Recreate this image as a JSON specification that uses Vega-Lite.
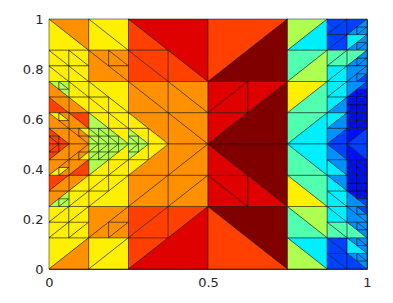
{"$schema":"https://vega.github.io/schema/vega-lite/v6.json","width":318,"height":250,"autosize":{"type":"none"},"padding":{"left":49,"top":19,"right":26,"bottom":34},"background":"white","config":{"view":{"stroke":"#404040","strokeWidth":1}},
"data":{"values":[
{"x":[0,0.125],"y":[0.875,0.875],"z":[1,0.875],"k":"y"},{"x":[0,0.125],"y":[1,0.875],"z":[1,1],"k":"o"},
{"x":[0.125,0.25],"y":[0.875,0.875],"z":[1,0.875],"k":"y"},{"x":[0.125,0.25],"y":[1,0.875],"z":[1,1],"k":"y"},
{"x":[0,0.0625],"y":[0.8125,0.8125],"z":[0.875,0.8125],"k":"y"},{"x":[0,0.0625],"y":[0.875,0.8125],"z":[0.875,0.875],"k":"y"},
{"x":[0.0625,0.125],"y":[0.8125,0.8125],"z":[0.875,0.8125],"k":"y"},{"x":[0.0625,0.125],"y":[0.875,0.8125],"z":[0.875,0.875],"k":"y"},
{"x":[0,0.0625],"y":[0.75,0.75],"z":[0.8125,0.75],"k":"y"},{"x":[0,0.0625],"y":[0.8125,0.75],"z":[0.8125,0.8125],"k":"y"},
{"x":[0.0625,0.125],"y":[0.75,0.75],"z":[0.8125,0.75],"k":"y"},{"x":[0.0625,0.125],"y":[0.8125,0.75],"z":[0.8125,0.8125],"k":"y"},
{"x":[0.125,0.25],"y":[0.75,0.75],"z":[0.875,0.75],"k":"o"},
{"x":[0.125,0.1875],"y":[0.875,0.8125],"z":[0.875,0.875],"k":"o"},{"x":[0.1875,0.25],"y":[0.8125,0.8125],"z":[0.875,0.8125],"k":"o"},{"x":[0.1875,0.25],"y":[0.875,0.8125],"z":[0.875,0.875],"k":"o"},{"x":[0.1875,0.25],"y":[0.8125,0.75],"z":[0.8125,0.8125],"k":"o"},
{"x":[0.125,0.25],"y":[0.75,0.625],"z":[0.75,0.75],"k":"y"},
{"x":[0.125,0.1875],"y":[0.6875,0.6875],"z":[0.75,0.6875],"k":"y"},{"x":[0.125,0.1875],"y":[0.625,0.625],"z":[0.6875,0.625],"k":"y"},{"x":[0.125,0.1875],"y":[0.6875,0.625],"z":[0.6875,0.6875],"k":"y"},{"x":[0.1875,0.25],"y":[0.625,0.625],"z":[0.6875,0.625],"k":"y"},
{"x":[0.0625,0.125],"y":[0.6875,0.6875],"z":[0.75,0.6875],"k":"y"},{"x":[0.0625,0.125],"y":[0.75,0.6875],"z":[0.75,0.75],"k":"y"},
{"x":[0.0625,0.125],"y":[0.625,0.625],"z":[0.6875,0.625],"k":"o"},{"x":[0.0625,0.125],"y":[0.6875,0.625],"z":[0.6875,0.6875],"k":"y"},
{"x":[0,0.0625],"y":[0.6875,0.6875],"z":[0.75,0.6875],"k":"o"},
{"x":[0,0.03125],"y":[0.75,0.71875],"z":[0.75,0.75],"k":"l"},{"x":[0.03125,0.0625],"y":[0.71875,0.71875],"z":[0.75,0.71875],"k":"l"},{"x":[0.03125,0.0625],"y":[0.75,0.71875],"z":[0.75,0.75],"k":"l"},{"x":[0.03125,0.0625],"y":[0.71875,0.6875],"z":[0.71875,0.71875],"k":"l"},
{"x":[0,0.0625],"y":[0.625,0.625],"z":[0.6875,0.625],"k":"R"},{"x":[0,0.0625],"y":[0.6875,0.625],"z":[0.6875,0.6875],"k":"o"},
{"x":[0.125,0.1875],"y":[0.625,0.5625],"z":[0.625,0.625],"k":"y"},{"x":[0.1875,0.25],"y":[0.5625,0.5625],"z":[0.625,0.5625],"k":"y"},{"x":[0.1875,0.25],"y":[0.625,0.5625],"z":[0.625,0.625],"k":"y"},{"x":[0.1875,0.25],"y":[0.5625,0.5],"z":[0.5625,0.5625],"k":"y"},
{"x":[0.125,0.1875],"y":[0.5625,0.5625],"z":[0.625,0.5625],"k":"l"},
{"x":[0.125,0.15625],"y":[0.53125,0.53125],"z":[0.5625,0.53125],"k":"l"},{"x":[0.125,0.15625],"y":[0.5,0.5],"z":[0.53125,0.5],"k":"l"},{"x":[0.125,0.15625],"y":[0.53125,0.5],"z":[0.53125,0.53125],"k":"l"},{"x":[0.15625,0.1875],"y":[0.5,0.5],"z":[0.53125,0.5],"k":"l"},
{"x":[0.125,0.15625],"y":[0.5625,0.53125],"z":[0.5625,0.5625],"k":"l"},{"x":[0.15625,0.1875],"y":[0.53125,0.53125],"z":[0.5625,0.53125],"k":"l"},{"x":[0.15625,0.1875],"y":[0.5625,0.53125],"z":[0.5625,0.5625],"k":"l"},{"x":[0.15625,0.1875],"y":[0.53125,0.5],"z":[0.53125,0.53125],"k":"l"},
{"x":[0.1875,0.21875],"y":[0.53125,0.53125],"z":[0.5625,0.53125],"k":"l"},{"x":[0.1875,0.21875],"y":[0.5,0.5],"z":[0.53125,0.5],"k":"l"},{"x":[0.1875,0.21875],"y":[0.53125,0.5],"z":[0.53125,0.53125],"k":"l"},{"x":[0.21875,0.25],"y":[0.5,0.5],"z":[0.53125,0.5],"k":"l"},
{"x":[0.0625,0.125],"y":[0.5625,0.5625],"z":[0.625,0.5625],"k":"o"},{"x":[0.0625,0.125],"y":[0.625,0.5625],"z":[0.625,0.625],"k":"R"},
{"x":[0,0.0625],"y":[0.5625,0.5625],"z":[0.625,0.5625],"k":"o"},
{"x":[0,0.03125],"y":[0.625,0.59375],"z":[0.625,0.625],"k":"y"},{"x":[0.03125,0.0625],"y":[0.59375,0.59375],"z":[0.625,0.59375],"k":"y"},{"x":[0.03125,0.0625],"y":[0.625,0.59375],"z":[0.625,0.625],"k":"o"},{"x":[0.03125,0.0625],"y":[0.59375,0.5625],"z":[0.59375,0.59375],"k":"o"},
{"x":[0.0625,0.125],"y":[0.5,0.5],"z":[0.5625,0.5],"k":"o"},
{"x":[0.0625,0.09375],"y":[0.5625,0.53125],"z":[0.5625,0.5625],"k":"o"},{"x":[0.09375,0.125],"y":[0.53125,0.53125],"z":[0.5625,0.53125],"k":"o"},{"x":[0.09375,0.125],"y":[0.5625,0.53125],"z":[0.5625,0.5625],"k":"y"},{"x":[0.09375,0.125],"y":[0.53125,0.5],"z":[0.53125,0.53125],"k":"o"},
{"x":[0,0.0625],"y":[0.5625,0.5],"z":[0.5625,0.5625],"k":"o"},
{"x":[0,0.03125],"y":[0.53125,0.53125],"z":[0.5625,0.53125],"k":"R"},{"x":[0,0.03125],"y":[0.5,0.5],"z":[0.53125,0.5],"k":"R"},{"x":[0,0.03125],"y":[0.53125,0.5],"z":[0.53125,0.53125],"k":"R"},{"x":[0.03125,0.0625],"y":[0.5,0.5],"z":[0.53125,0.5],"k":"R"},
{"x":[0.25,0.375],"y":[0.875,0.875],"z":[1,0.875],"k":"R"},{"x":[0.25,0.375],"y":[0.75,0.75],"z":[0.875,0.75],"k":"R"},{"x":[0.25,0.375],"y":[0.875,0.75],"z":[0.875,0.875],"k":"R"},{"x":[0.375,0.5],"y":[0.75,0.75],"z":[0.875,0.75],"k":"R"},
{"x":[0.25,0.5],"y":[1,0.75],"z":[1,1],"k":"r"},
{"x":[0.5,0.75],"y":[0.75,1],"z":[1,1],"k":"R"},{"x":[0.5,0.75],"y":[0.75,0.75],"z":[0.75,1],"k":"d"},
{"x":[0.25,0.375],"y":[0.625,0.625],"z":[0.75,0.625],"k":"o"},{"x":[0.25,0.375],"y":[0.75,0.625],"z":[0.75,0.75],"k":"o"},
{"x":[0.375,0.5],"y":[0.625,0.625],"z":[0.75,0.625],"k":"o"},{"x":[0.375,0.5],"y":[0.75,0.625],"z":[0.75,0.75],"k":"o"},
{"x":[0.375,0.5],"y":[0.5,0.5],"z":[0.625,0.5],"k":"o"},{"x":[0.375,0.5],"y":[0.625,0.5],"z":[0.625,0.625],"k":"o"},
{"x":[0.25,0.375],"y":[0.625,0.5],"z":[0.625,0.625],"k":"o"},
{"x":[0.25,0.3125],"y":[0.5625,0.5625],"z":[0.625,0.5625],"k":"y"},{"x":[0.25,0.3125],"y":[0.5625,0.5],"z":[0.5625,0.5625],"k":"y"},{"x":[0.3125,0.375],"y":[0.5,0.5],"z":[0.5625,0.5],"k":"y"},
{"x":[0.25,0.28125],"y":[0.53125,0.53125],"z":[0.5625,0.53125],"k":"l"},{"x":[0.25,0.28125],"y":[0.5,0.5],"z":[0.53125,0.5],"k":"l"},{"x":[0.25,0.28125],"y":[0.53125,0.5],"z":[0.53125,0.53125],"k":"l"},{"x":[0.28125,0.3125],"y":[0.5,0.5],"z":[0.53125,0.5],"k":"l"},
{"x":[0.5,0.625],"y":[0.625,0.75],"z":[0.75,0.75],"k":"r"},{"x":[0.5,0.625],"y":[0.625,0.625],"z":[0.625,0.75],"k":"r"},
{"x":[0.5,0.625],"y":[0.5,0.625],"z":[0.625,0.625],"k":"r"},{"x":[0.625,0.75],"y":[0.625,0.75],"z":[0.75,0.75],"k":"r"},
{"x":[0.5,0.75],"y":[0.5,0.5],"z":[0.5,0.75],"k":"d"},
{"x":[0.75,0.875],"y":[0.875,1],"z":[1,1],"k":"l"},{"x":[0.75,0.875],"y":[0.875,0.875],"z":[0.875,1],"k":"c"},
{"x":[0.75,0.875],"y":[0.75,0.875],"z":[0.875,0.875],"k":"g"},{"x":[0.75,0.875],"y":[0.75,0.75],"z":[0.75,0.875],"k":"l"},
{"x":[0.75,0.875],"y":[0.625,0.75],"z":[0.75,0.75],"k":"y"},{"x":[0.75,0.875],"y":[0.625,0.625],"z":[0.625,0.75],"k":"g"},
{"x":[0.75,0.875],"y":[0.5,0.625],"z":[0.625,0.625],"k":"g"},{"x":[0.75,0.875],"y":[0.5,0.5],"z":[0.5,0.625],"k":"c"},
{"x":[0.875,0.9375],"y":[0.9375,1],"z":[1,1],"k":"b"},{"x":[0.875,0.9375],"y":[0.9375,0.9375],"z":[0.9375,1],"k":"b"},
{"x":[0.875,0.9375],"y":[0.875,0.9375],"z":[0.9375,0.9375],"k":"b"},{"x":[0.875,0.9375],"y":[0.875,0.875],"z":[0.875,0.9375],"k":"b"},
{"x":[0.875,0.9375],"y":[0.8125,0.875],"z":[0.875,0.875],"k":"g"},{"x":[0.875,0.9375],"y":[0.8125,0.8125],"z":[0.8125,0.875],"k":"g"},
{"x":[0.875,0.9375],"y":[0.75,0.8125],"z":[0.8125,0.8125],"k":"c"},{"x":[0.875,0.9375],"y":[0.75,0.75],"z":[0.75,0.8125],"k":"c"},
{"x":[0.875,0.9375],"y":[0.6875,0.75],"z":[0.75,0.75],"k":"c"},{"x":[0.875,0.9375],"y":[0.6875,0.6875],"z":[0.6875,0.75],"k":"c"},
{"x":[0.875,0.9375],"y":[0.625,0.6875],"z":[0.6875,0.6875],"k":"c"},{"x":[0.875,0.9375],"y":[0.625,0.625],"z":[0.625,0.6875],"k":"s"},
{"x":[0.875,0.9375],"y":[0.5625,0.625],"z":[0.625,0.625],"k":"c"},{"x":[0.875,0.9375],"y":[0.5625,0.5625],"z":[0.5625,0.625],"k":"s"},
{"x":[0.875,0.9375],"y":[0.5,0.5625],"z":[0.5625,0.5625],"k":"s"},{"x":[0.875,0.9375],"y":[0.5,0.5],"z":[0.5,0.5625],"k":"b"},
{"x":[0.9375,1],"y":[0.9375,1],"z":[1,1],"k":"b"},{"x":[0.9375,0.96875],"y":[0.9375,0.9375],"z":[0.9375,0.96875],"k":"s"},{"x":[0.96875,1],"y":[0.9375,0.96875],"z":[0.96875,0.96875],"k":"s"},{"x":[0.96875,1],"y":[0.9375,0.9375],"z":[0.9375,0.96875],"k":"s"},{"x":[0.96875,1],"y":[0.96875,0.96875],"z":[0.96875,1],"k":"s"},
{"x":[0.9375,1],"y":[0.875,0.9375],"z":[0.9375,0.9375],"k":"c"},{"x":[0.9375,0.96875],"y":[0.875,0.875],"z":[0.875,0.90625],"k":"s"},{"x":[0.96875,1],"y":[0.875,0.90625],"z":[0.90625,0.90625],"k":"s"},{"x":[0.96875,1],"y":[0.875,0.875],"z":[0.875,0.90625],"k":"s"},{"x":[0.96875,1],"y":[0.90625,0.90625],"z":[0.90625,0.9375],"k":"s"},
{"x":[0.9375,1],"y":[0.8125,0.875],"z":[0.875,0.875],"k":"g"},{"x":[0.9375,0.96875],"y":[0.8125,0.8125],"z":[0.8125,0.84375],"k":"s"},{"x":[0.96875,1],"y":[0.8125,0.84375],"z":[0.84375,0.84375],"k":"s"},{"x":[0.96875,1],"y":[0.8125,0.8125],"z":[0.8125,0.84375],"k":"s"},{"x":[0.96875,1],"y":[0.84375,0.84375],"z":[0.84375,0.875],"k":"s"},
{"x":[0.9375,1],"y":[0.75,0.8125],"z":[0.8125,0.8125],"k":"s"},{"x":[0.9375,0.96875],"y":[0.75,0.75],"z":[0.75,0.78125],"k":"s"},{"x":[0.96875,1],"y":[0.75,0.78125],"z":[0.78125,0.78125],"k":"s"},{"x":[0.96875,1],"y":[0.75,0.75],"z":[0.75,0.78125],"k":"b"},{"x":[0.96875,1],"y":[0.78125,0.78125],"z":[0.78125,0.8125],"k":"s"},
{"x":[0.9375,1],"y":[0.6875,0.75],"z":[0.75,0.75],"k":"s"},{"x":[0.9375,0.96875],"y":[0.6875,0.6875],"z":[0.6875,0.71875],"k":"n"},{"x":[0.96875,1],"y":[0.6875,0.71875],"z":[0.71875,0.71875],"k":"n"},{"x":[0.96875,1],"y":[0.6875,0.6875],"z":[0.6875,0.71875],"k":"n"},{"x":[0.96875,1],"y":[0.71875,0.71875],"z":[0.71875,0.75],"k":"b"},
{"x":[0.9375,0.96875],"y":[0.65625,0.6875],"z":[0.6875,0.6875],"k":"n"},{"x":[0.9375,0.96875],"y":[0.65625,0.65625],"z":[0.65625,0.6875],"k":"n"},{"x":[0.96875,1],"y":[0.65625,0.6875],"z":[0.6875,0.6875],"k":"n"},{"x":[0.96875,1],"y":[0.65625,0.65625],"z":[0.65625,0.6875],"k":"n"},
{"x":[0.9375,0.96875],"y":[0.625,0.65625],"z":[0.65625,0.65625],"k":"n"},{"x":[0.9375,0.96875],"y":[0.625,0.625],"z":[0.625,0.65625],"k":"n"},{"x":[0.96875,1],"y":[0.625,0.65625],"z":[0.65625,0.65625],"k":"n"},{"x":[0.96875,1],"y":[0.625,0.625],"z":[0.625,0.65625],"k":"n"},
{"x":[0.9375,0.96875],"y":[0.59375,0.625],"z":[0.625,0.625],"k":"n"},{"x":[0.9375,0.96875],"y":[0.59375,0.59375],"z":[0.59375,0.625],"k":"n"},{"x":[0.96875,1],"y":[0.59375,0.625],"z":[0.625,0.625],"k":"n"},{"x":[0.96875,1],"y":[0.59375,0.59375],"z":[0.59375,0.625],"k":"n"},
{"x":[0.9375,0.96875],"y":[0.5625,0.59375],"z":[0.59375,0.59375],"k":"n"},{"x":[0.9375,0.96875],"y":[0.5625,0.5625],"z":[0.5625,0.59375],"k":"n"},{"x":[0.96875,1],"y":[0.5625,0.59375],"z":[0.59375,0.59375],"k":"n"},{"x":[0.96875,1],"y":[0.5625,0.5625],"z":[0.5625,0.59375],"k":"n"},
{"x":[0.9375,1],"y":[0.5,0.5625],"z":[0.5625,0.5625],"k":"n"},{"x":[0.9375,1],"y":[0.5,0.5],"z":[0.5,0.5625],"k":"b"},

{"x":[0,0.125],"y":[0,0.125],"z":[0.125,0.125],"k":"y"},{"x":[0,0.125],"y":[0,0],"z":[0,0.125],"k":"o"},
{"x":[0.125,0.25],"y":[0,0.125],"z":[0.125,0.125],"k":"y"},{"x":[0.125,0.25],"y":[0,0],"z":[0,0.125],"k":"y"},
{"x":[0,0.0625],"y":[0.125,0.1875],"z":[0.1875,0.1875],"k":"y"},{"x":[0,0.0625],"y":[0.125,0.125],"z":[0.125,0.1875],"k":"y"},
{"x":[0.0625,0.125],"y":[0.125,0.1875],"z":[0.1875,0.1875],"k":"y"},{"x":[0.0625,0.125],"y":[0.125,0.125],"z":[0.125,0.1875],"k":"y"},
{"x":[0,0.0625],"y":[0.1875,0.25],"z":[0.25,0.25],"k":"y"},{"x":[0,0.0625],"y":[0.1875,0.1875],"z":[0.1875,0.25],"k":"y"},
{"x":[0.0625,0.125],"y":[0.1875,0.25],"z":[0.25,0.25],"k":"y"},{"x":[0.0625,0.125],"y":[0.1875,0.1875],"z":[0.1875,0.25],"k":"y"},
{"x":[0.125,0.25],"y":[0.125,0.25],"z":[0.25,0.25],"k":"o"},
{"x":[0.125,0.1875],"y":[0.125,0.125],"z":[0.125,0.1875],"k":"o"},{"x":[0.1875,0.25],"y":[0.125,0.1875],"z":[0.1875,0.1875],"k":"o"},{"x":[0.1875,0.25],"y":[0.125,0.125],"z":[0.125,0.1875],"k":"o"},{"x":[0.1875,0.25],"y":[0.1875,0.1875],"z":[0.1875,0.25],"k":"o"},
{"x":[0.125,0.25],"y":[0.25,0.25],"z":[0.25,0.375],"k":"y"},
{"x":[0.125,0.1875],"y":[0.25,0.3125],"z":[0.3125,0.3125],"k":"y"},{"x":[0.125,0.1875],"y":[0.3125,0.375],"z":[0.375,0.375],"k":"y"},{"x":[0.125,0.1875],"y":[0.3125,0.3125],"z":[0.3125,0.375],"k":"y"},{"x":[0.1875,0.25],"y":[0.3125,0.375],"z":[0.375,0.375],"k":"y"},
{"x":[0.0625,0.125],"y":[0.25,0.3125],"z":[0.3125,0.3125],"k":"y"},{"x":[0.0625,0.125],"y":[0.25,0.25],"z":[0.25,0.3125],"k":"y"},
{"x":[0.0625,0.125],"y":[0.3125,0.375],"z":[0.375,0.375],"k":"o"},{"x":[0.0625,0.125],"y":[0.3125,0.3125],"z":[0.3125,0.375],"k":"y"},
{"x":[0,0.0625],"y":[0.25,0.3125],"z":[0.3125,0.3125],"k":"o"},
{"x":[0,0.03125],"y":[0.25,0.25],"z":[0.25,0.28125],"k":"l"},{"x":[0.03125,0.0625],"y":[0.25,0.28125],"z":[0.28125,0.28125],"k":"l"},{"x":[0.03125,0.0625],"y":[0.25,0.25],"z":[0.25,0.28125],"k":"l"},{"x":[0.03125,0.0625],"y":[0.28125,0.28125],"z":[0.28125,0.3125],"k":"l"},
{"x":[0,0.0625],"y":[0.3125,0.375],"z":[0.375,0.375],"k":"R"},{"x":[0,0.0625],"y":[0.3125,0.3125],"z":[0.3125,0.375],"k":"o"},
{"x":[0.125,0.1875],"y":[0.375,0.375],"z":[0.375,0.4375],"k":"y"},{"x":[0.1875,0.25],"y":[0.375,0.4375],"z":[0.4375,0.4375],"k":"y"},{"x":[0.1875,0.25],"y":[0.375,0.375],"z":[0.375,0.4375],"k":"y"},{"x":[0.1875,0.25],"y":[0.4375,0.4375],"z":[0.4375,0.5],"k":"y"},
{"x":[0.125,0.1875],"y":[0.375,0.4375],"z":[0.4375,0.4375],"k":"l"},
{"x":[0.125,0.15625],"y":[0.4375,0.46875],"z":[0.46875,0.46875],"k":"l"},{"x":[0.125,0.15625],"y":[0.46875,0.5],"z":[0.5,0.5],"k":"l"},{"x":[0.125,0.15625],"y":[0.46875,0.46875],"z":[0.46875,0.5],"k":"l"},{"x":[0.15625,0.1875],"y":[0.46875,0.5],"z":[0.5,0.5],"k":"l"},
{"x":[0.125,0.15625],"y":[0.4375,0.4375],"z":[0.4375,0.46875],"k":"l"},{"x":[0.15625,0.1875],"y":[0.4375,0.46875],"z":[0.46875,0.46875],"k":"l"},{"x":[0.15625,0.1875],"y":[0.4375,0.4375],"z":[0.4375,0.46875],"k":"l"},{"x":[0.15625,0.1875],"y":[0.46875,0.46875],"z":[0.46875,0.5],"k":"l"},
{"x":[0.1875,0.21875],"y":[0.4375,0.46875],"z":[0.46875,0.46875],"k":"l"},{"x":[0.1875,0.21875],"y":[0.46875,0.5],"z":[0.5,0.5],"k":"l"},{"x":[0.1875,0.21875],"y":[0.46875,0.46875],"z":[0.46875,0.5],"k":"l"},{"x":[0.21875,0.25],"y":[0.46875,0.5],"z":[0.5,0.5],"k":"l"},
{"x":[0.0625,0.125],"y":[0.375,0.4375],"z":[0.4375,0.4375],"k":"o"},{"x":[0.0625,0.125],"y":[0.375,0.375],"z":[0.375,0.4375],"k":"R"},
{"x":[0,0.0625],"y":[0.375,0.4375],"z":[0.4375,0.4375],"k":"o"},
{"x":[0,0.03125],"y":[0.375,0.375],"z":[0.375,0.40625],"k":"y"},{"x":[0.03125,0.0625],"y":[0.375,0.40625],"z":[0.40625,0.40625],"k":"y"},{"x":[0.03125,0.0625],"y":[0.375,0.375],"z":[0.375,0.40625],"k":"o"},{"x":[0.03125,0.0625],"y":[0.40625,0.40625],"z":[0.40625,0.4375],"k":"o"},
{"x":[0.0625,0.125],"y":[0.4375,0.5],"z":[0.5,0.5],"k":"o"},
{"x":[0.0625,0.09375],"y":[0.4375,0.4375],"z":[0.4375,0.46875],"k":"o"},{"x":[0.09375,0.125],"y":[0.4375,0.46875],"z":[0.46875,0.46875],"k":"o"},{"x":[0.09375,0.125],"y":[0.4375,0.4375],"z":[0.4375,0.46875],"k":"y"},{"x":[0.09375,0.125],"y":[0.46875,0.46875],"z":[0.46875,0.5],"k":"o"},
{"x":[0,0.0625],"y":[0.4375,0.4375],"z":[0.4375,0.5],"k":"o"},
{"x":[0,0.03125],"y":[0.4375,0.46875],"z":[0.46875,0.46875],"k":"R"},{"x":[0,0.03125],"y":[0.46875,0.5],"z":[0.5,0.5],"k":"R"},{"x":[0,0.03125],"y":[0.46875,0.46875],"z":[0.46875,0.5],"k":"R"},{"x":[0.03125,0.0625],"y":[0.46875,0.5],"z":[0.5,0.5],"k":"R"},
{"x":[0.25,0.375],"y":[0,0.125],"z":[0.125,0.125],"k":"R"},{"x":[0.25,0.375],"y":[0.125,0.25],"z":[0.25,0.25],"k":"R"},{"x":[0.25,0.375],"y":[0.125,0.125],"z":[0.125,0.25],"k":"R"},{"x":[0.375,0.5],"y":[0.125,0.25],"z":[0.25,0.25],"k":"R"},
{"x":[0.25,0.5],"y":[0,0],"z":[0,0.25],"k":"r"},
{"x":[0.5,0.75],"y":[0,0],"z":[0.25,0],"k":"R"},{"x":[0.5,0.75],"y":[0.25,0],"z":[0.25,0.25],"k":"d"},
{"x":[0.25,0.375],"y":[0.25,0.375],"z":[0.375,0.375],"k":"o"},{"x":[0.25,0.375],"y":[0.25,0.25],"z":[0.25,0.375],"k":"o"},
{"x":[0.375,0.5],"y":[0.25,0.375],"z":[0.375,0.375],"k":"o"},{"x":[0.375,0.5],"y":[0.25,0.25],"z":[0.25,0.375],"k":"o"},
{"x":[0.375,0.5],"y":[0.375,0.5],"z":[0.5,0.5],"k":"o"},{"x":[0.375,0.5],"y":[0.375,0.375],"z":[0.375,0.5],"k":"o"},
{"x":[0.25,0.375],"y":[0.375,0.375],"z":[0.375,0.5],"k":"o"},
{"x":[0.25,0.3125],"y":[0.375,0.4375],"z":[0.4375,0.4375],"k":"y"},{"x":[0.25,0.3125],"y":[0.4375,0.4375],"z":[0.4375,0.5],"k":"y"},{"x":[0.3125,0.375],"y":[0.4375,0.5],"z":[0.5,0.5],"k":"y"},
{"x":[0.25,0.28125],"y":[0.4375,0.46875],"z":[0.46875,0.46875],"k":"l"},{"x":[0.25,0.28125],"y":[0.46875,0.5],"z":[0.5,0.5],"k":"l"},{"x":[0.25,0.28125],"y":[0.46875,0.46875],"z":[0.46875,0.5],"k":"l"},{"x":[0.28125,0.3125],"y":[0.46875,0.5],"z":[0.5,0.5],"k":"l"},
{"x":[0.5,0.625],"y":[0.25,0.25],"z":[0.375,0.25],"k":"r"},{"x":[0.5,0.625],"y":[0.375,0.25],"z":[0.375,0.375],"k":"r"},
{"x":[0.5,0.625],"y":[0.375,0.375],"z":[0.5,0.375],"k":"r"},{"x":[0.625,0.75],"y":[0.25,0.25],"z":[0.375,0.25],"k":"r"},
{"x":[0.5,0.75],"y":[0.5,0.25],"z":[0.5,0.5],"k":"d"},
{"x":[0.75,0.875],"y":[0,0],"z":[0.125,0],"k":"l"},{"x":[0.75,0.875],"y":[0.125,0],"z":[0.125,0.125],"k":"c"},
{"x":[0.75,0.875],"y":[0.125,0.125],"z":[0.25,0.125],"k":"g"},{"x":[0.75,0.875],"y":[0.25,0.125],"z":[0.25,0.25],"k":"l"},
{"x":[0.75,0.875],"y":[0.25,0.25],"z":[0.375,0.25],"k":"y"},{"x":[0.75,0.875],"y":[0.375,0.25],"z":[0.375,0.375],"k":"g"},
{"x":[0.75,0.875],"y":[0.375,0.375],"z":[0.5,0.375],"k":"g"},{"x":[0.75,0.875],"y":[0.5,0.375],"z":[0.5,0.5],"k":"c"},
{"x":[0.875,0.9375],"y":[0,0],"z":[0.0625,0],"k":"b"},{"x":[0.875,0.9375],"y":[0.0625,0],"z":[0.0625,0.0625],"k":"b"},
{"x":[0.875,0.9375],"y":[0.0625,0.0625],"z":[0.125,0.0625],"k":"b"},{"x":[0.875,0.9375],"y":[0.125,0.0625],"z":[0.125,0.125],"k":"b"},
{"x":[0.875,0.9375],"y":[0.125,0.125],"z":[0.1875,0.125],"k":"g"},{"x":[0.875,0.9375],"y":[0.1875,0.125],"z":[0.1875,0.1875],"k":"g"},
{"x":[0.875,0.9375],"y":[0.1875,0.1875],"z":[0.25,0.1875],"k":"c"},{"x":[0.875,0.9375],"y":[0.25,0.1875],"z":[0.25,0.25],"k":"c"},
{"x":[0.875,0.9375],"y":[0.25,0.25],"z":[0.3125,0.25],"k":"c"},{"x":[0.875,0.9375],"y":[0.3125,0.25],"z":[0.3125,0.3125],"k":"c"},
{"x":[0.875,0.9375],"y":[0.3125,0.3125],"z":[0.375,0.3125],"k":"c"},{"x":[0.875,0.9375],"y":[0.375,0.3125],"z":[0.375,0.375],"k":"s"},
{"x":[0.875,0.9375],"y":[0.375,0.375],"z":[0.4375,0.375],"k":"c"},{"x":[0.875,0.9375],"y":[0.4375,0.375],"z":[0.4375,0.4375],"k":"s"},
{"x":[0.875,0.9375],"y":[0.4375,0.4375],"z":[0.5,0.4375],"k":"s"},{"x":[0.875,0.9375],"y":[0.5,0.4375],"z":[0.5,0.5],"k":"b"},
{"x":[0.9375,1],"y":[0,0],"z":[0.0625,0],"k":"b"},{"x":[0.9375,0.96875],"y":[0.0625,0.03125],"z":[0.0625,0.0625],"k":"s"},{"x":[0.96875,1],"y":[0.03125,0.03125],"z":[0.0625,0.03125],"k":"s"},{"x":[0.96875,1],"y":[0.0625,0.03125],"z":[0.0625,0.0625],"k":"s"},{"x":[0.96875,1],"y":[0.03125,0],"z":[0.03125,0.03125],"k":"s"},
{"x":[0.9375,1],"y":[0.0625,0.0625],"z":[0.125,0.0625],"k":"c"},{"x":[0.9375,0.96875],"y":[0.125,0.09375],"z":[0.125,0.125],"k":"s"},{"x":[0.96875,1],"y":[0.09375,0.09375],"z":[0.125,0.09375],"k":"s"},{"x":[0.96875,1],"y":[0.125,0.09375],"z":[0.125,0.125],"k":"s"},{"x":[0.96875,1],"y":[0.09375,0.0625],"z":[0.09375,0.09375],"k":"s"},
{"x":[0.9375,1],"y":[0.125,0.125],"z":[0.1875,0.125],"k":"g"},{"x":[0.9375,0.96875],"y":[0.1875,0.15625],"z":[0.1875,0.1875],"k":"s"},{"x":[0.96875,1],"y":[0.15625,0.15625],"z":[0.1875,0.15625],"k":"s"},{"x":[0.96875,1],"y":[0.1875,0.15625],"z":[0.1875,0.1875],"k":"s"},{"x":[0.96875,1],"y":[0.15625,0.125],"z":[0.15625,0.15625],"k":"s"},
{"x":[0.9375,1],"y":[0.1875,0.1875],"z":[0.25,0.1875],"k":"s"},{"x":[0.9375,0.96875],"y":[0.25,0.21875],"z":[0.25,0.25],"k":"s"},{"x":[0.96875,1],"y":[0.21875,0.21875],"z":[0.25,0.21875],"k":"s"},{"x":[0.96875,1],"y":[0.25,0.21875],"z":[0.25,0.25],"k":"b"},{"x":[0.96875,1],"y":[0.21875,0.1875],"z":[0.21875,0.21875],"k":"s"},
{"x":[0.9375,1],"y":[0.25,0.25],"z":[0.3125,0.25],"k":"s"},{"x":[0.9375,0.96875],"y":[0.3125,0.28125],"z":[0.3125,0.3125],"k":"n"},{"x":[0.96875,1],"y":[0.28125,0.28125],"z":[0.3125,0.28125],"k":"n"},{"x":[0.96875,1],"y":[0.3125,0.28125],"z":[0.3125,0.3125],"k":"n"},{"x":[0.96875,1],"y":[0.28125,0.25],"z":[0.28125,0.28125],"k":"b"},
{"x":[0.9375,0.96875],"y":[0.3125,0.3125],"z":[0.34375,0.3125],"k":"n"},{"x":[0.9375,0.96875],"y":[0.34375,0.3125],"z":[0.34375,0.34375],"k":"n"},{"x":[0.96875,1],"y":[0.3125,0.3125],"z":[0.34375,0.3125],"k":"n"},{"x":[0.96875,1],"y":[0.34375,0.3125],"z":[0.34375,0.34375],"k":"n"},
{"x":[0.9375,0.96875],"y":[0.34375,0.34375],"z":[0.375,0.34375],"k":"n"},{"x":[0.9375,0.96875],"y":[0.375,0.34375],"z":[0.375,0.375],"k":"n"},{"x":[0.96875,1],"y":[0.34375,0.34375],"z":[0.375,0.34375],"k":"n"},{"x":[0.96875,1],"y":[0.375,0.34375],"z":[0.375,0.375],"k":"n"},
{"x":[0.9375,0.96875],"y":[0.375,0.375],"z":[0.40625,0.375],"k":"n"},{"x":[0.9375,0.96875],"y":[0.40625,0.375],"z":[0.40625,0.40625],"k":"n"},{"x":[0.96875,1],"y":[0.375,0.375],"z":[0.40625,0.375],"k":"n"},{"x":[0.96875,1],"y":[0.40625,0.375],"z":[0.40625,0.40625],"k":"n"},
{"x":[0.9375,0.96875],"y":[0.40625,0.40625],"z":[0.4375,0.40625],"k":"n"},{"x":[0.9375,0.96875],"y":[0.4375,0.40625],"z":[0.4375,0.4375],"k":"n"},{"x":[0.96875,1],"y":[0.40625,0.40625],"z":[0.4375,0.40625],"k":"n"},{"x":[0.96875,1],"y":[0.4375,0.40625],"z":[0.4375,0.4375],"k":"n"},
{"x":[0.9375,1],"y":[0.4375,0.4375],"z":[0.5,0.4375],"k":"n"},{"x":[0.9375,1],"y":[0.5,0.4375],"z":[0.5,0.5],"k":"b"}
]},
"transform":[{"window":[{"op":"row_number","as":"i"}]},{"flatten":["x","y","z"]}],
"mark":{"type":"area","stroke":"#000000","strokeWidth":0.6,"strokeOpacity":0.75,"fillOpacity":1,"clip":false},
"encoding":{
"x":{"field":"x","type":"quantitative","scale":{"domain":[0,1],"nice":false,"zero":false},"axis":{"values":[0,0.5,1],"format":"~g","title":null,"grid":false,"domain":false,"ticks":false,"labelFont":"DejaVu Sans","labelFontSize":13,"labelColor":"#262626","labelPadding":7,"labelFlush":false}},
"y":{"field":"y","type":"quantitative","stack":null,"scale":{"domain":[0,1],"nice":false,"zero":false},"axis":{"values":[0,0.2,0.4,0.6,0.8,1],"format":"~g","title":null,"grid":false,"domain":false,"ticks":false,"labelFont":"DejaVu Sans","labelFontSize":13,"labelColor":"#262626","labelPadding":6}},
"y2":{"field":"z"},
"detail":{"field":"i","type":"nominal"},
"color":{"field":"k","type":"nominal","legend":null,"scale":{"domain":["d","r","R","o","y","l","g","c","s","b","n"],"range":["#800000","#df0000","#ff4000","#ff9000","#ffef00","#afff50","#50ffaf","#00efff","#0090ff","#0040ff","#0010f0"]}}
}}
